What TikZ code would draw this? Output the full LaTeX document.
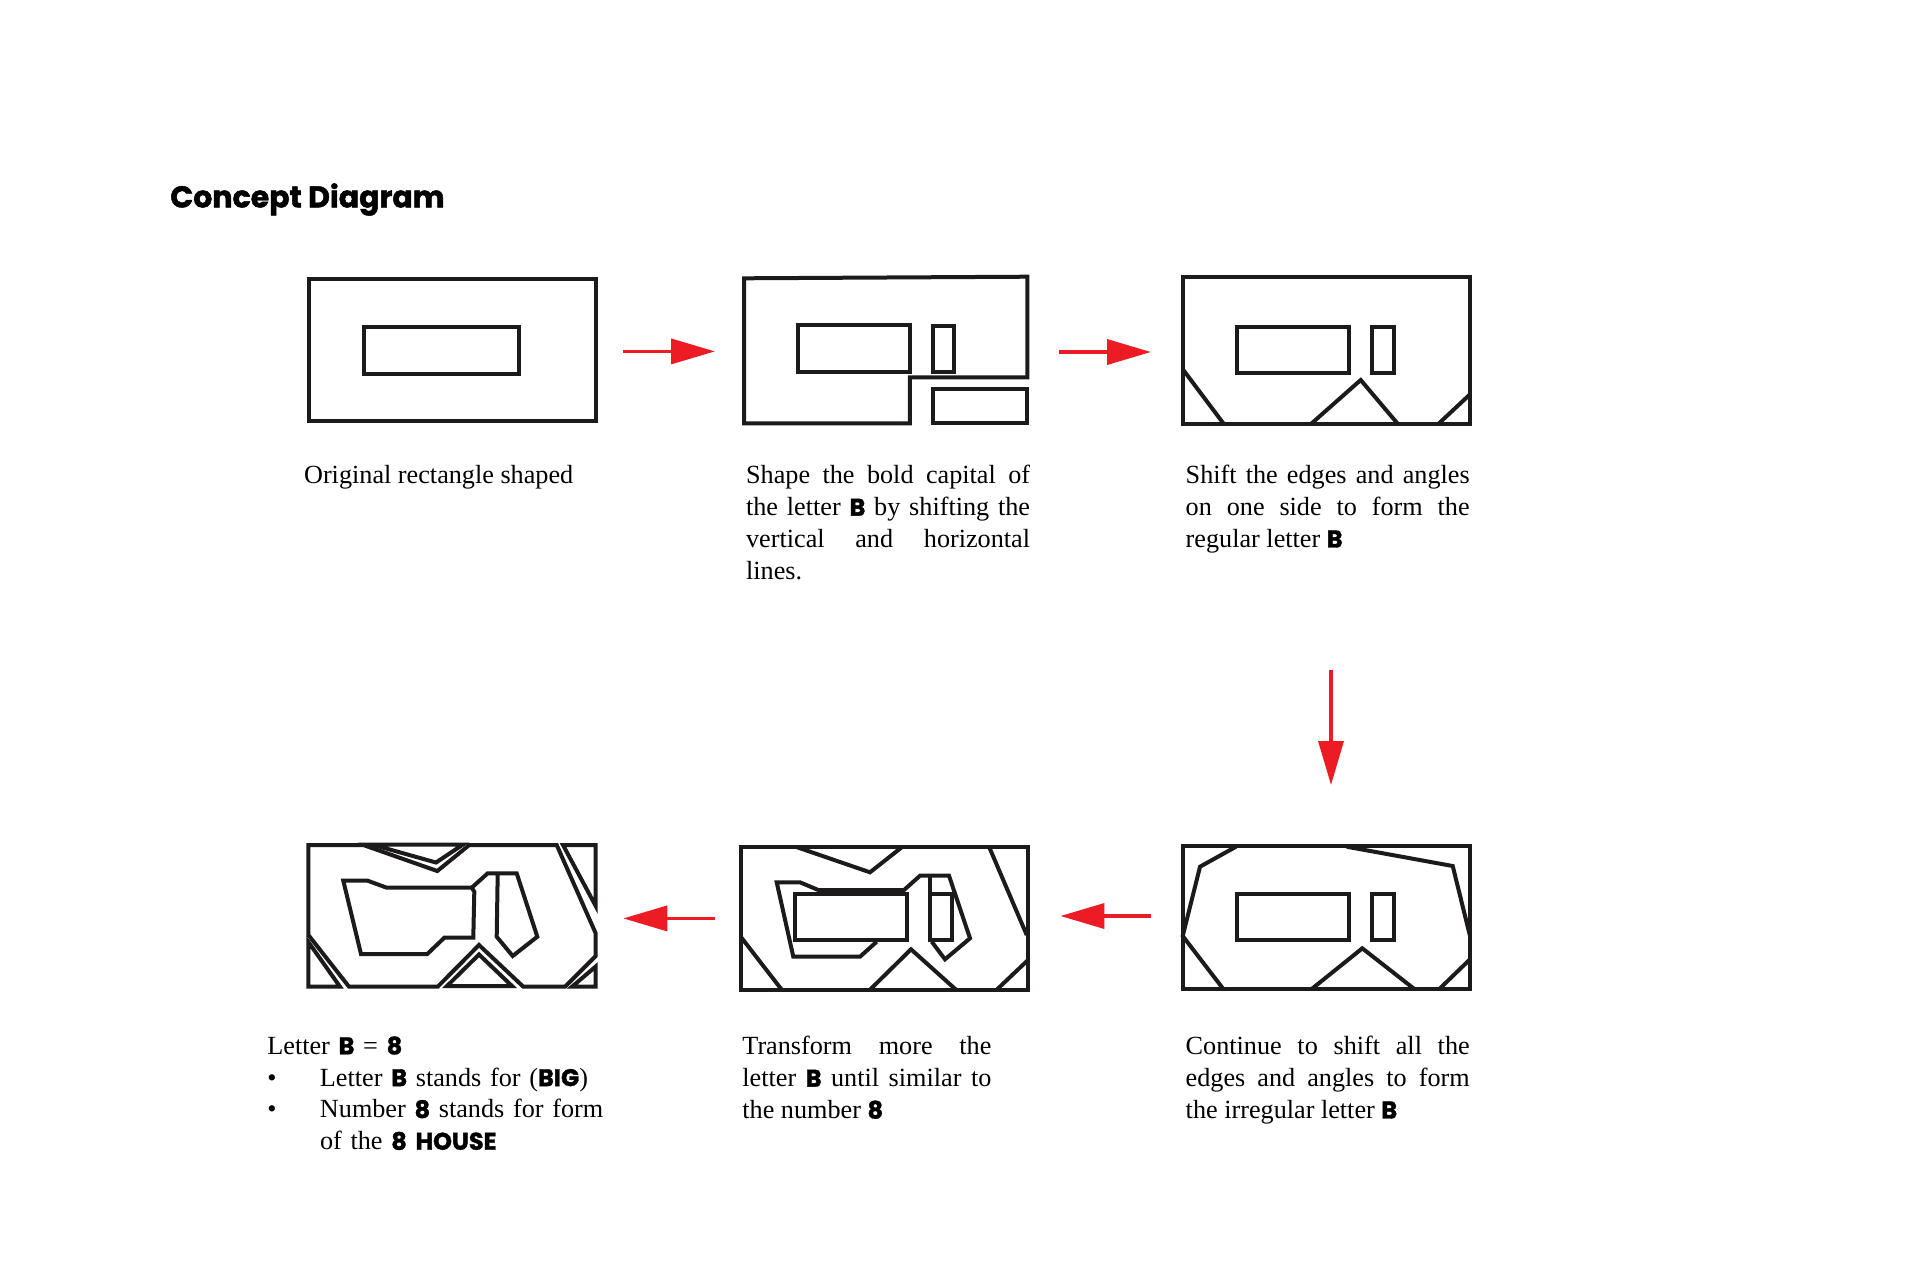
\documentclass[tikz,border=0pt]{standalone}
\usepackage{fontspec}
\setmainfont{Liberation Serif}
\newfontfamily\heavyfont[BoldFeatures={FakeBold=1.6}]{Poppins}
\usetikzlibrary{arrows.meta}
\definecolor{inkblack}{HTML}{1C1A1B}
\definecolor{flowred}{HTML}{ED1C24}
\newcommand{\hv}[1]{{\heavyfont\bfseries\fontsize{12}{15.9}\selectfont #1}}
\tikzset{
    outline/.style={inkblack, line width=2pt, line join=miter},
    flow/.style={flowred, line width=1.8pt, -{Triangle[length=#1, width=12.5pt]}},
    flow/.default=22pt,
    caption/.style={anchor=north west, inner sep=0pt, align=justify, font=\fontsize{13.1}{15.9}\selectfont},
}
\begin{document}
\begin{tikzpicture}[x=0.5pt, y=-0.5pt]
    \useasboundingbox (0, 0) rectangle (1920, 1280);
    \node[anchor=west, inner sep=0pt, font=\heavyfont\bfseries\fontsize{15}{18}\selectfont] (title) at (170, 199.5) {Concept Diagram};
    % top row
    \draw[outline] (309.3, 279.3) rectangle (595.6, 421.3);
    \draw[outline] (364.2, 327) rectangle (518.8, 374);
    \draw[outline] (744, 278.3) -- (1027.3, 276.7) -- (1027.3, 377.3) -- (909.8, 377.3) -- (909.8, 423.3) -- (744, 423.3) -- cycle;
    \draw[outline] (798.4, 325) rectangle (909.8, 372);
    \draw[outline] (933.4, 325.7) rectangle (953.9, 372);
    \draw[outline] (933.4, 389.3) rectangle (1027.3, 423.3);
    \draw[outline] (1182.7, 277.3) rectangle (1470, 424);
    \draw[outline] (1237.3, 326.7) rectangle (1349.3, 373.3);
    \draw[outline] (1372.3, 326.7) rectangle (1394, 373.3);
    \draw[outline] (1183.3, 370) -- (1223.3, 423.3);
    \draw[outline] (1311.7, 423.3) -- (1360.7, 380) -- (1397.3, 423.3);
    \draw[outline] (1439, 423.3) -- (1469.3, 395);
    % bottom row, right to left
    \draw[outline] (1182.7, 846) rectangle (1470, 989);
    \draw[outline] (1237.3, 893.5) rectangle (1349.3, 939.5);
    \draw[outline] (1372.3, 893.5) rectangle (1394, 939.5);
    \draw[outline] (1236, 846.7) -- (1200, 866.7) -- (1182.7, 936) -- (1223.3, 989);
    \draw[outline] (1346.7, 846.7) -- (1452.7, 866) -- (1470, 936);
    \draw[outline] (1311.7, 989) -- (1362.3, 948.3) -- (1414.3, 989);
    \draw[outline] (1439.3, 989) -- (1470, 959.3);
    \draw[outline] (740.5, 846.7) rectangle (1028.3, 989.7);
    \draw[outline] (795, 894) rectangle (907.3, 940);
    \draw[outline] (930, 894) rectangle (951.7, 940);
    \draw[outline] (797.3, 847.3) -- (870, 872.3) -- (901.7, 847.3);
    \draw[outline] (989.3, 847.3) -- (1026.7, 935);
    \draw[outline] (740.7, 936.7) -- (781.7, 989.7);
    \draw[outline] (870, 989.7) -- (911, 949.3) -- (956, 989.7);
    \draw[outline] (996.7, 989.7) -- (1027.3, 960.7);
    \draw[outline] (876.7, 941.7) -- (860, 956.7) -- (793.3, 956.7) -- (776.7, 882.3) -- (800, 882.3) -- (818.3, 890) -- (904, 890) -- (920, 875.7) -- (949, 875.7) -- (970, 938.3) -- (945, 959.3) -- (931.7, 941.7);
    \draw[outline] (930, 875.7) -- (930, 894);
    \draw[outline] (363.3, 845) -- (437.3, 871) -- (469.3, 845) -- (556.7, 845) -- (595.7, 933.3) -- (595.7, 956) -- (565, 986.7) -- (523.3, 986.7) -- (479, 945) -- (437.7, 986.7) -- (349, 986.7) -- (308.4, 935) -- (308.4, 845) -- cycle;
    \draw[outline] (372, 844.5) -- (463, 844.5) -- (436, 862.5) -- cycle;
    \draw[outline] (563, 845) -- (595.7, 845) -- (595.7, 906) -- cycle;
    \draw[outline] (308.4, 942) -- (340, 986.7) -- (308.4, 986.7) -- cycle;
    \draw[outline] (447, 986) -- (479, 954.5) -- (512, 986) -- cycle;
    \draw[outline] (572, 986.7) -- (595.7, 966.5) -- (595.7, 986.7) -- cycle;
    \draw[outline] (343.3, 880.7) -- (367.7, 880.7) -- (386.7, 887.7) -- (471.7, 887.7) -- (474.3, 891.7) -- (473.3, 937.7) -- (444.3, 937.7) -- (427.3, 954) -- (361, 954) -- cycle;
    \draw[outline] (471.7, 887.7) -- (487.7, 873.3) -- (516.7, 873.3) -- (537.3, 936.7) -- (512.7, 956) -- (496.7, 936.7) -- (497.7, 873.3);
    % arrows
    \coordinate (F1) at (623.3, 351.4);
    \coordinate (T1) at (715, 351.4);
    \coordinate (F2) at (1059, 352);
    \coordinate (T2) at (1151, 352);
    \coordinate (F3) at (1331, 670);
    \coordinate (T3) at (1331, 785);
    \coordinate (F4) at (1151, 916);
    \coordinate (T4) at (1060.4, 916);
    \coordinate (F5) at (715, 918.4);
    \coordinate (T5) at (623.3, 918.4);
    \draw[flow] (F1) -- (T1);
    \draw[flow] (F2) -- (T2);
    \draw[flow] (F3) -- (T3);
    \draw[flow] (F4) -- (T4);
    \draw[flow] (F5) -- (T5);
    % captions
    \node[caption, text width=200pt] (capA) at (303.7, 465) {Original rectangle shaped};
    \node[caption, text width=142pt] (capB) at (745.7, 465) {Shape the bold capital of\linebreak the letter \hv{B} by shifting the\linebreak vertical and horizontal\linebreak lines.};
    \node[caption, text width=142pt] (capC) at (1185.3, 465) {Shift the edges and angles\linebreak on one side to form the\linebreak regular letter \hv{B}};
    \node[caption, text width=124.5pt] (capD) at (742, 1036) {Transform more the\linebreak letter \hv{B} until similar to\linebreak the number \hv{8}};
    \node[caption, text width=142pt] (capE) at (1185.3, 1036) {Continue to shift all the\linebreak edges and angles to form\linebreak the irregular letter \hv{B}};
    \node[caption, text width=180pt, align=left] (capF) at (267, 1036) {Letter \hv{B} = \hv{8}\\
        \makebox[26.3pt][l]{\textbullet}Letter \hv{B} stands for (\hv{BIG})\\
        \makebox[26.3pt][l]{\textbullet}Number \hv{8} stands for form\\
        \makebox[26.3pt][l]{}of the \hv{8} \hv{HOUSE}};
\end{tikzpicture}
\end{document}
